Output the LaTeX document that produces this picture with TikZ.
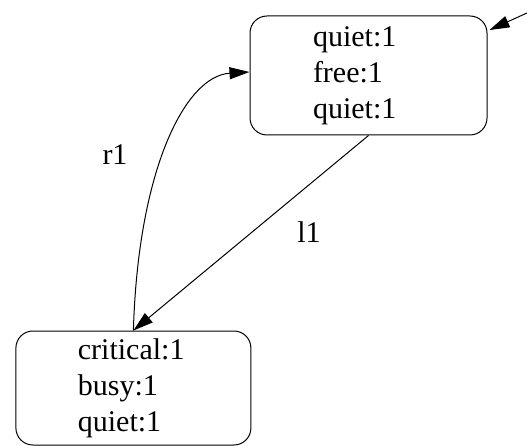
\documentclass[tikz,border=0pt]{standalone}
\usepackage{fontspec}
\setmainfont{Liberation Serif}
\usetikzlibrary{arrows.meta}
\begin{document}
\begin{tikzpicture}[x=1pt,y=-1pt,
  statebox/.style={draw,line width=1pt,rounded corners=17pt,inner sep=0pt,
    text width=111pt,align=left,font=\fontsize{30}{36}\selectfont},
  edge/.style={line width=1pt,-{Triangle[length=20pt,width=12pt]}},
  lbl/.style={font=\fontsize{30}{36}\selectfont,inner sep=0pt}]
\useasboundingbox (0,0) rectangle (527,446);
\node[statebox,minimum width=237pt,minimum height=119pt] (top) at (368.5,75.5)
  {quiet:1\\free:1\\quiet:1};
\node[statebox,minimum width=235pt,minimum height=114pt] (bot) at (133.4,388)
  {critical:1\\busy:1\\quiet:1};
\coordinate (ext) at (527,13);
\draw[edge] (ext) -- ([shift={(2,-45.5)}]top.east);
\draw[edge] (bot.north) .. controls (138,170) and (185,76) .. ([yshift=3.5pt]top.west);
\draw[edge] (top.south) -- (bot.north);
\node[lbl] (r1) at (115,155) {r1};
\node[lbl] (l1) at (309,232) {l1};
\end{tikzpicture}
\end{document}
